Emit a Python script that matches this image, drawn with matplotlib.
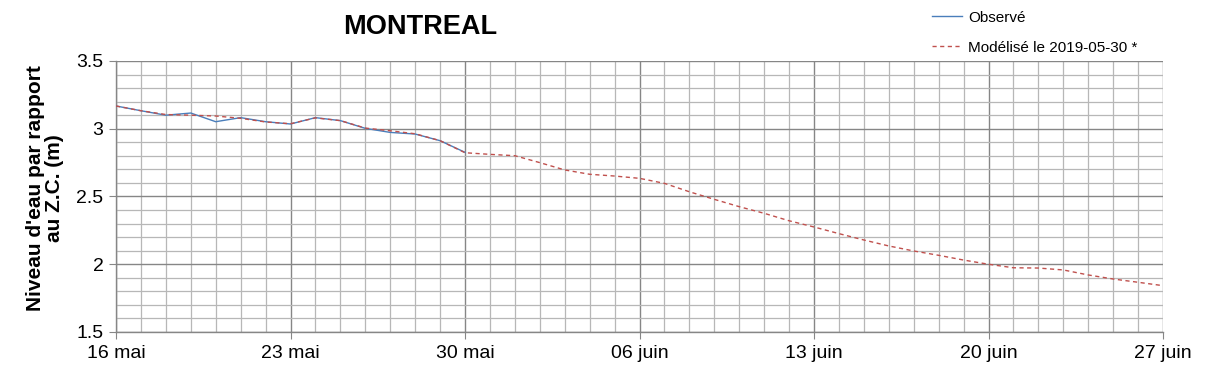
import matplotlib
matplotlib.use("Agg")
import matplotlib.pyplot as plt
from matplotlib.ticker import MultipleLocator, FuncFormatter

plt.rcParams['font.family'] = ['Liberation Sans', 'DejaVu Sans']

# jours depuis le 16 mai 2019
obs_days = list(range(0, 15))
obs_vals = [3.168, 3.133, 3.100, 3.116, 3.052, 3.082, 3.052, 3.035, 3.082, 3.060,
            3.003, 2.973, 2.961, 2.912, 2.826]

mod_days = list(range(0, 43))
mod_vals = [3.168, 3.133, 3.105, 3.100, 3.094, 3.077, 3.050, 3.037, 3.080, 3.060,
            3.005, 2.985, 2.963, 2.912, 2.823, 2.811, 2.801, 2.750, 2.696, 2.664,
            2.651, 2.634, 2.597, 2.535, 2.479, 2.425, 2.376, 2.321, 2.275, 2.226,
            2.179, 2.135, 2.098, 2.066, 2.031, 2.000, 1.974, 1.972, 1.958, 1.921,
            1.891, 1.867, 1.842]

tick_days = [0, 7, 14, 21, 28, 35, 42]
tick_labels = ["16 mai", "23 mai", "30 mai", "06 juin", "13 juin", "20 juin", "27 juin"]

fig = plt.figure(figsize=(12.09, 3.78), dpi=100)
ax = fig.add_axes([116/1209, 1 - 332/378, (1163 - 116)/1209, (332 - 61)/378])

ax.plot(obs_days, obs_vals, color="#4a7ebb", lw=1.0, label="Observé", zorder=4)
ax.plot(mod_days, mod_vals, color="#c0504d", lw=1.0, ls=(0, (3, 2.5)),
        label="Modélisé le 2019-05-30 *", zorder=5)

ax.set_xlim(0, 42)
ax.set_ylim(1.5, 3.5)
ax.set_xticks(tick_days)
ax.set_xticklabels(tick_labels)
ax.xaxis.set_minor_locator(MultipleLocator(1))
ax.yaxis.set_major_locator(MultipleLocator(0.5))
ax.yaxis.set_minor_locator(MultipleLocator(0.1))
ax.yaxis.set_major_formatter(FuncFormatter(lambda v, p: f"{v:g}"))

ax.grid(which="minor", color="#b7b7b7", lw=0.9)
ax.grid(which="major", color="#868686", lw=1.0)
ax.set_axisbelow(True)

for s in ["top", "right"]:
    ax.spines[s].set_visible(False)
for s in ["left", "bottom"]:
    ax.spines[s].set_color("#868686")
    ax.spines[s].set_linewidth(1.0)

ax.tick_params(which="major", direction="out", length=5, color="#868686",
               labelsize=14, pad=4)
ax.tick_params(which="minor", length=0)

fig.text(45/1209, 1 - 188/378, "Niveau d'eau par rapport\nau Z.C. (m)", rotation=90,
         ha="center", va="center", fontsize=15, fontweight="bold", linespacing=1.0)

fig.text(420/1209, 1 - 27/378, "MONTREAL", ha="center", va="center",
         fontsize=19.5, fontweight="bold")

fig.legend(loc="upper left", bbox_to_anchor=(918/1209, 1 + 3/378), frameon=False,
           fontsize=11, handlelength=2.0, handletextpad=0.4, labelspacing=1.05)

fig.savefig("out.png", dpi=100)
